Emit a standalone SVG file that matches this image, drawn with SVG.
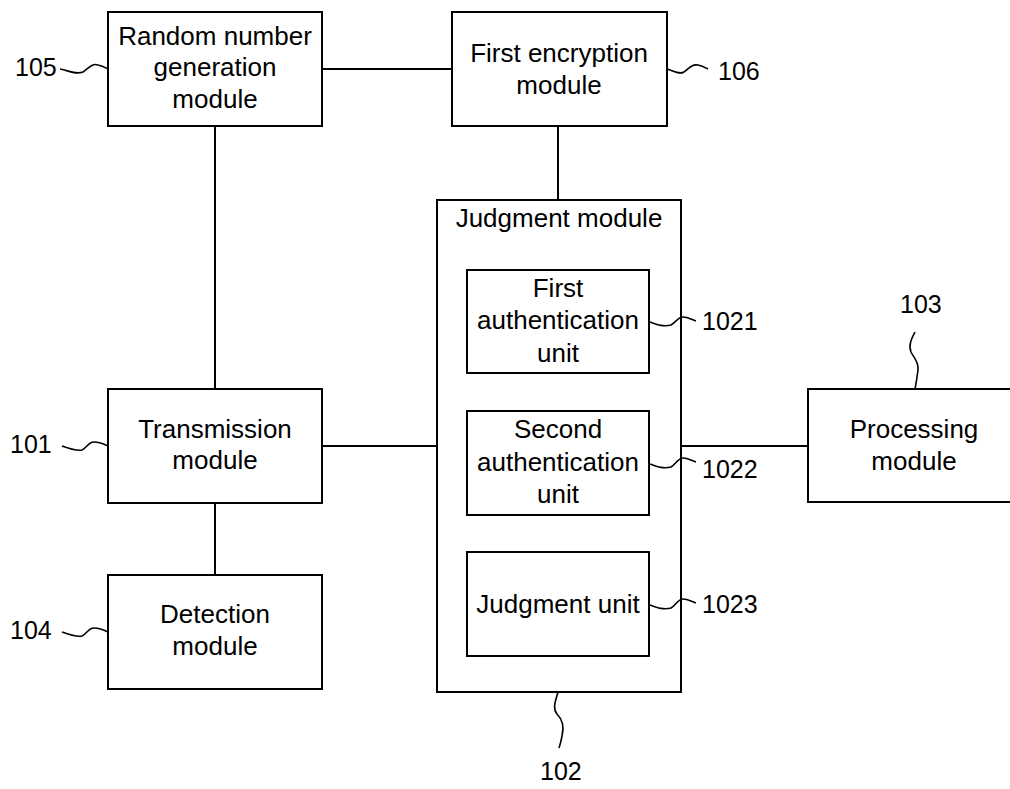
<svg xmlns="http://www.w3.org/2000/svg" width="1010" height="789" viewBox="0 0 1010 789">
<style>
.box{fill:#fff;stroke:#000;stroke-width:2}
.ln{fill:none;stroke:#000;stroke-width:2}
.sq{fill:none;stroke:#000;stroke-width:1.6}
text{font-family:"Liberation Sans",Arial,sans-serif;fill:#000}
.t{font-size:26px;text-anchor:middle}
.n{font-size:25px}
</style>
<rect width="1010" height="789" fill="#fff"/>
<g id="connectors">
<line class="ln" x1="322" y1="69" x2="452" y2="69"/>
<line class="ln" x1="215" y1="126" x2="215" y2="389"/>
<line class="ln" x1="558" y1="126" x2="558" y2="200"/>
<line class="ln" x1="215" y1="503" x2="215" y2="575"/>
<line class="ln" x1="322" y1="446" x2="437" y2="446"/>
<line class="ln" x1="681" y1="446" x2="808" y2="446"/>
<line class="ln" x1="558" y1="373" x2="558" y2="411"/>
<line class="ln" x1="558" y1="515" x2="558" y2="552"/>
</g>
<g id="n105">
<rect class="box" x="108" y="12" width="214" height="114"/>
<text class="t" x="215" y="45">Random number</text>
<text class="t" x="215" y="76">generation</text>
<text class="t" x="215" y="108">module</text>
<text class="n" x="15" y="76">105</text>
<path class="sq" d="M60,69 C70,71 76,75 83,72 C89,68 92,63 98,65 C103,66 106,68 108,69"/>
</g>
<g id="n106">
<rect class="box" x="452" y="12" width="215" height="114"/>
<text class="t" x="559" y="62">First encryption</text>
<text class="t" x="559" y="94">module</text>
<path class="sq" d="M667,69 C674,71 679,75 684,72 C689,68 692,64 698,65 C703,66 706,68 708,69"/>
<text class="n" x="718" y="80">106</text>
</g>
<g id="n102">
<rect class="box" x="437" y="200" width="244" height="492"/>
<text class="t" x="559" y="227">Judgment module</text>
<path class="sq" d="M558,692 C556,700 552,708 557,714 C563,720 564,728 562,736 C561,742 560,745 559,748"/>
<text class="n" x="540" y="780">102</text>
</g>
<g id="n1021">
<rect class="box" x="467" y="270" width="182" height="103"/>
<text class="t" x="558" y="297">First</text>
<text class="t" x="558" y="329">authentication</text>
<text class="t" x="558" y="362">unit</text>
<path class="sq" d="M650,322 C658,325 664,327 671,325 C676,322 678,317 683,317 C688,317 692,320 696,321"/>
<text class="n" x="702" y="330">1021</text>
</g>
<g id="n1022">
<rect class="box" x="467" y="411" width="182" height="104"/>
<text class="t" x="558" y="438">Second</text>
<text class="t" x="558" y="471">authentication</text>
<text class="t" x="558" y="503">unit</text>
<path class="sq" d="M650,464 C658,467 664,469 671,467 C676,464 678,458 683,458 C688,458 692,461 696,462"/>
<text class="n" x="702" y="478">1022</text>
</g>
<g id="n1023">
<rect class="box" x="467" y="552" width="182" height="104"/>
<text class="t" x="558" y="613">Judgment unit</text>
<path class="sq" d="M650,605 C658,608 664,610 671,608 C676,605 678,599 683,599 C688,599 692,602 696,603"/>
<text class="n" x="702" y="613">1023</text>
</g>
<g id="n101">
<rect class="box" x="108" y="389" width="214" height="114"/>
<text class="t" x="215" y="438">Transmission</text>
<text class="t" x="215" y="469">module</text>
<text class="n" x="10" y="453">101</text>
<path class="sq" d="M62,446 C70,449 76,451 82,450 C87,448 88,442 94,442 C100,442 104,444 108,446"/>
</g>
<g id="n104">
<rect class="box" x="108" y="575" width="214" height="114"/>
<text class="t" x="215" y="623">Detection</text>
<text class="t" x="215" y="655">module</text>
<text class="n" x="10" y="639">104</text>
<path class="sq" d="M62,632 C70,635 76,637 82,636 C87,634 88,628 94,628 C100,628 104,630 108,632"/>
</g>
<g id="n103">
<rect class="box" x="808" y="389" width="230" height="113"/>
<text class="t" x="914" y="438">Processing</text>
<text class="t" x="914" y="470">module</text>
<path class="sq" d="M915,332 C912,338 908,345 911,352 C914,358 919,362 918,370 C917,378 916,384 915,389"/>
<text class="n" x="900" y="313">103</text>
</g>
</svg>
